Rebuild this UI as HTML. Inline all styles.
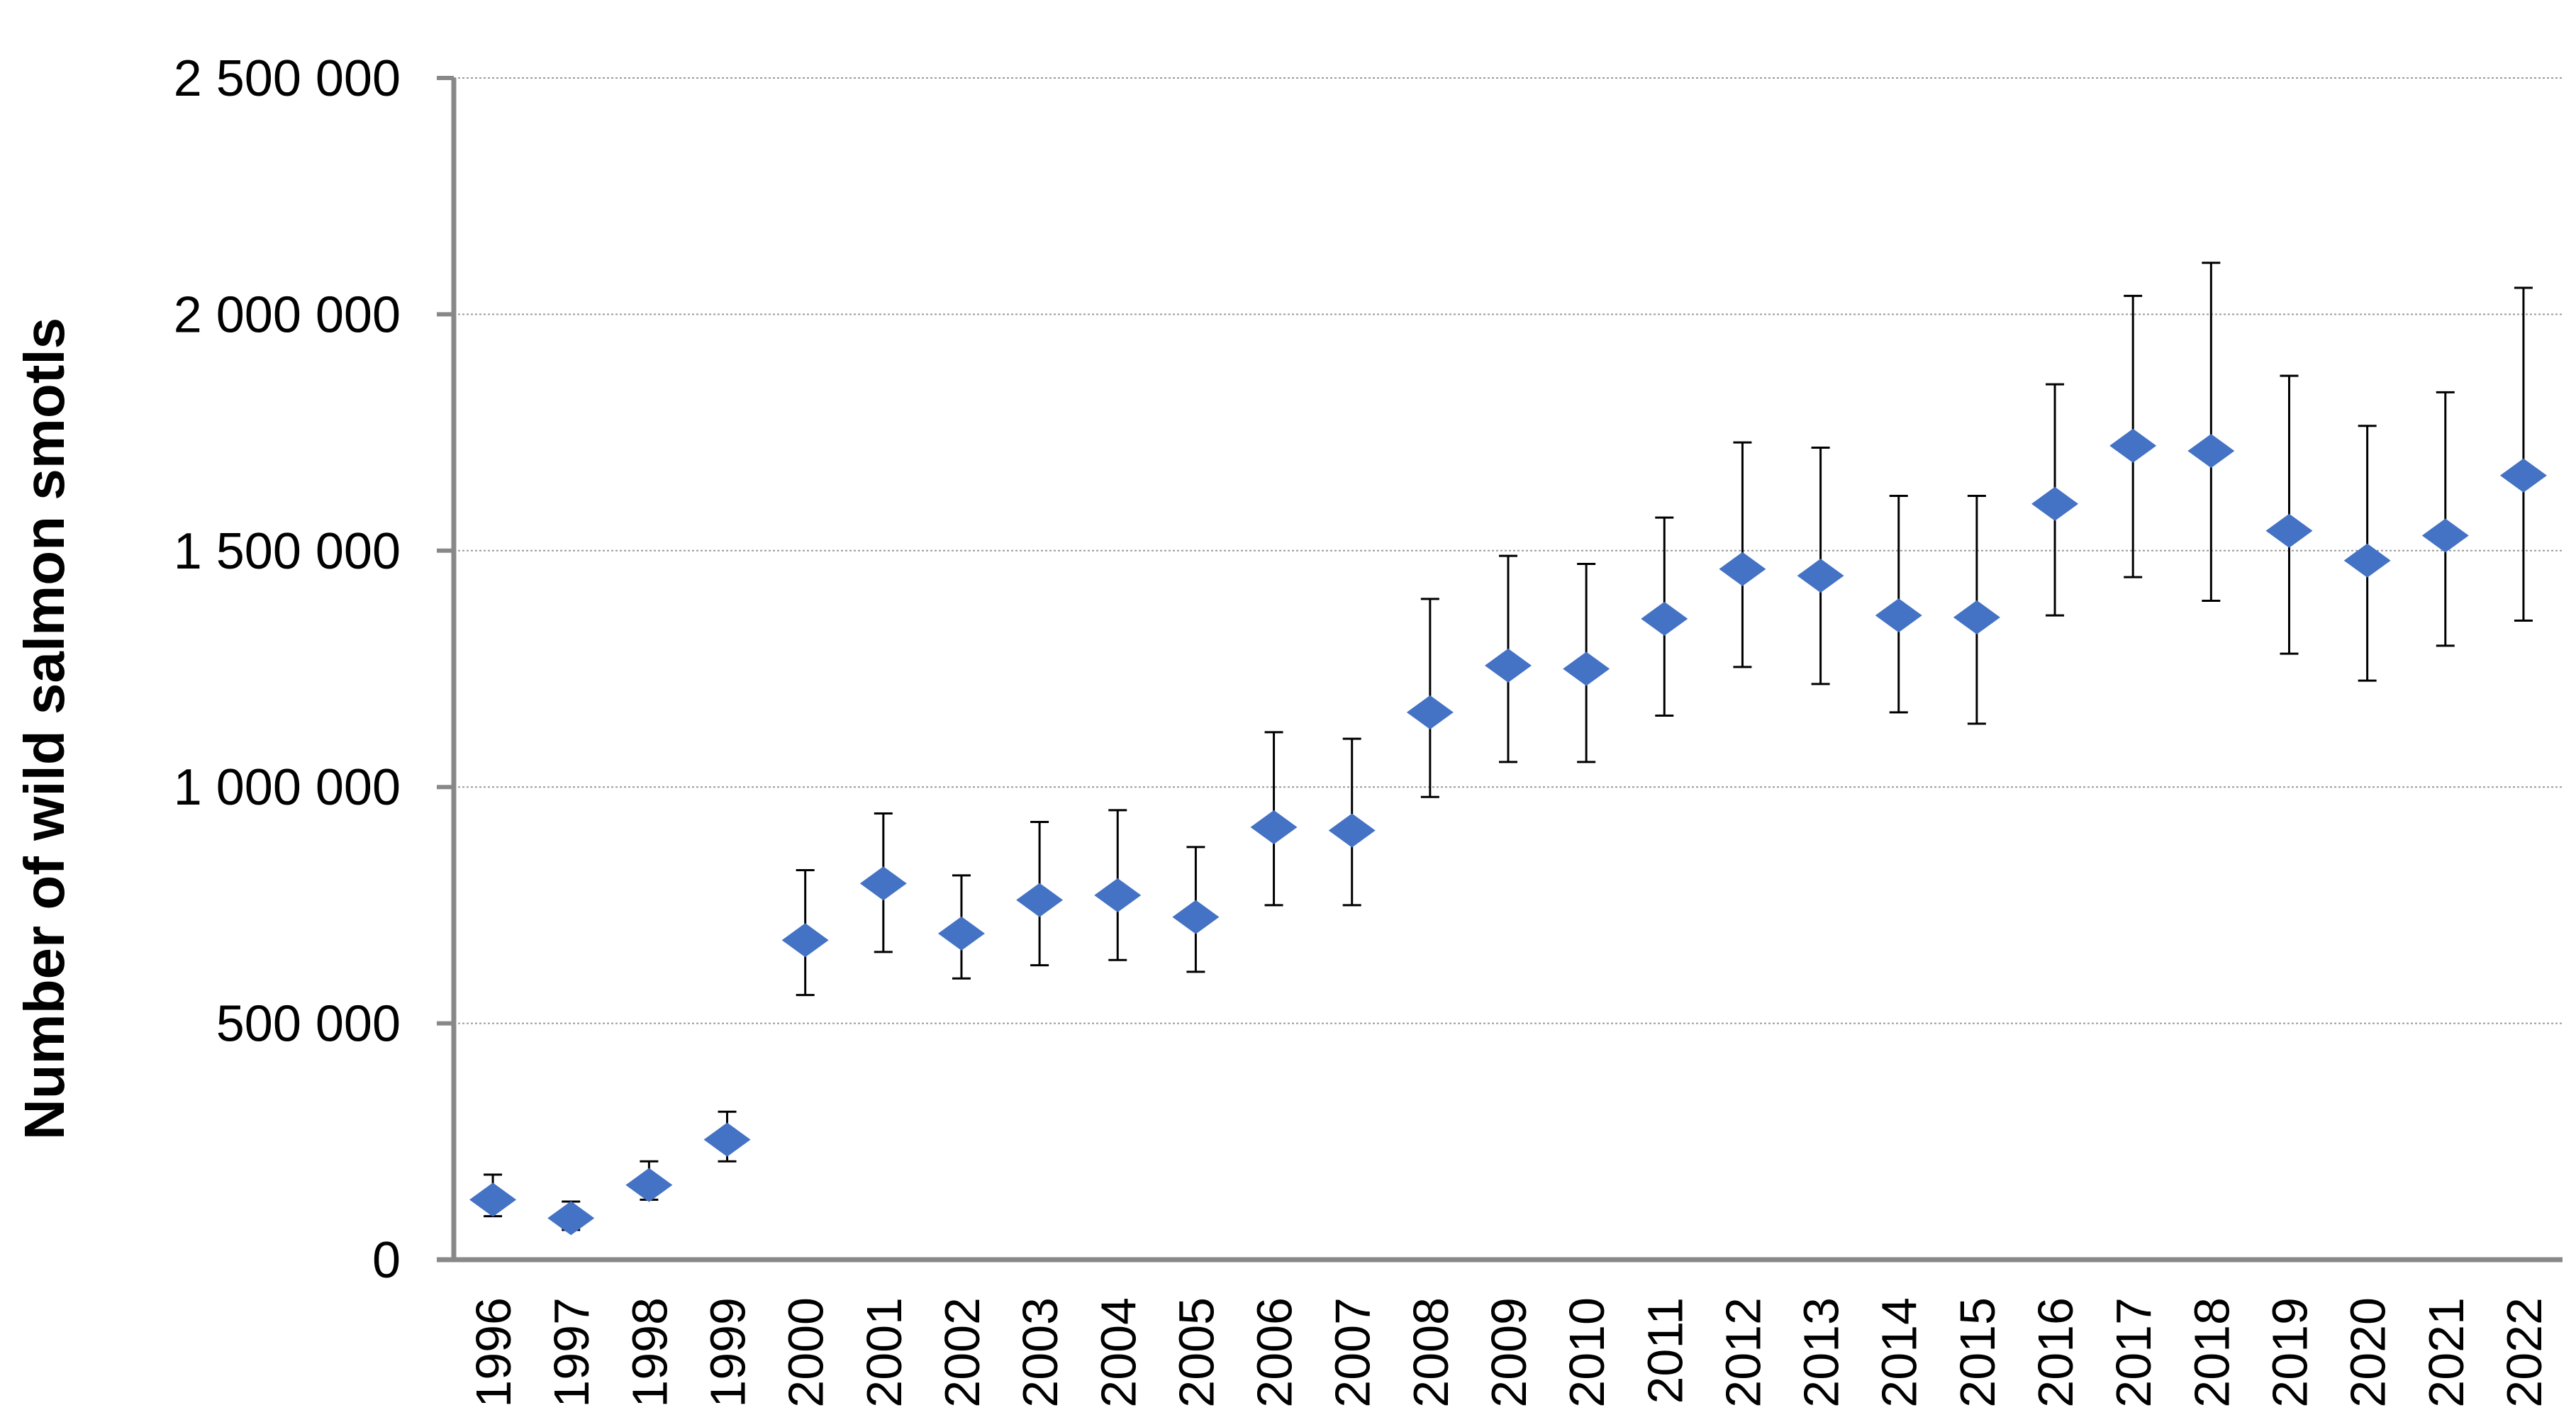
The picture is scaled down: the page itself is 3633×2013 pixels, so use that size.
<!DOCTYPE html>
<html><head><meta charset="utf-8"><style>
html,body{margin:0;padding:0;background:#fff;}
svg text{font-family:"Liberation Sans Narrow","Liberation Sans",sans-serif;}
</style></head><body>
<svg width="3633" height="2008" viewBox="0 0 3633 2008" xmlns="http://www.w3.org/2000/svg">
<g id="grid"></g>
<g id="yaxis"></g>
<g id="xaxis"></g>
<g id="marks"></g>
<text x="0" y="0" transform="translate(90,1028) rotate(-90)" text-anchor="middle" font-size="80" font-weight="bold" fill="#000" style="font-family:'Liberation Sans Narrow','Liberation Sans',sans-serif">Number of wild salmon smotls</text>
</svg>
<script>
const years=[1996,1997,1998,1999,2000,2001,2002,2003,2004,2005,2006,2007,2008,2009,2010,2011,2012,2013,2014,2015,2016,2017,2018,2019,2020,2021,2022];
const values=[127000,88000,158000,254000,676000,796000,690000,761000,771000,725000,915000,908000,1158000,1257000,1250000,1356000,1461000,1447000,1363000,1359000,1599000,1722000,1711000,1542000,1479000,1532000,1659000];
const upper=[180000,123000,208000,313000,824000,944000,813000,926000,951000,873000,1116000,1102000,1398000,1489000,1472000,1570000,1729000,1718000,1616000,1616000,1852000,2039000,2109000,1870000,1764000,1835000,2056000];
const lower=[92000,63000,127000,208000,560000,651000,595000,623000,634000,609000,750000,750000,979000,1053000,1053000,1151000,1254000,1218000,1158000,1134000,1363000,1444000,1394000,1282000,1225000,1299000,1352000];
const yTicks=[0,500000,1000000,1500000,2000000,2500000];
const yTickLabels=["0","500 000","1 000 000","1 500 000","2 000 000","2 500 000"];

const NS="http://www.w3.org/2000/svg";
const X0=640,X1=3614,Y0=1777,Y1=110,YMAX=2500000;
const band=(X1-X0)/years.length;
function xs(i){return X0+band*(i+0.5);}
function ys(v){return Y0-(v/YMAX)*(Y0-Y1);}
function mk(tag,attrs,parent){const e=document.createElementNS(NS,tag);for(const k in attrs)e.setAttribute(k,attrs[k]);parent.appendChild(e);return e;}
const grid=document.getElementById('grid'),ya=document.getElementById('yaxis'),xa=document.getElementById('xaxis'),marks=document.getElementById('marks');

yTicks.forEach((t,i)=>{
  const y=ys(t);
  if(t>0){const g=mk('line',{x1:X0,x2:X1,y1:y,y2:y,stroke:'#9a9a9a','stroke-width':2,'stroke-dasharray':'3,3'},grid);
  
  }
  const tk=mk('line',{x1:X0-24,x2:X0,y1:y,y2:y,stroke:'#888','stroke-width':6},ya);
  
  
  const tx=mk('text',{x:565,y:y+25,'text-anchor':'end','font-size':72,fill:'#000'},ya);
  
  
  tx.style.fontFamily="'Liberation Sans',sans-serif";
  tx.textContent=yTickLabels[i];
});
const yl=mk('line',{x1:X0,x2:X0,y1:Y1,y2:Y0+3,stroke:'#888','stroke-width':7},ya);


const xl=mk('line',{x1:X0-24,x2:X1,y1:Y0,y2:Y0,stroke:'#888','stroke-width':7},xa);



years.forEach((yr,i)=>{
  const x=xs(i);
  const t=mk('text',{x:0,y:0,transform:`translate(${x+25},1830) rotate(-90)`,'text-anchor':'end','font-size':70,fill:'#000'},xa);
  
  
  t.textContent=yr;
  const yh=ys(upper[i]),yl2=ys(lower[i]),yv=ys(values[i]);
  const eb=mk('path',{d:`M${x},${yh}V${yl2}M${x-13},${yh}H${x+13}M${x-13},${yl2}H${x+13}`,stroke:'#000','stroke-width':3,fill:'none'},marks);
  
  
  const d=mk('polygon',{points:`${x},${yv-24} ${x+33},${yv} ${x},${yv+24} ${x-33},${yv}`,fill:'#4472C4'},marks);
  
  
});
</script>
</body></html>
